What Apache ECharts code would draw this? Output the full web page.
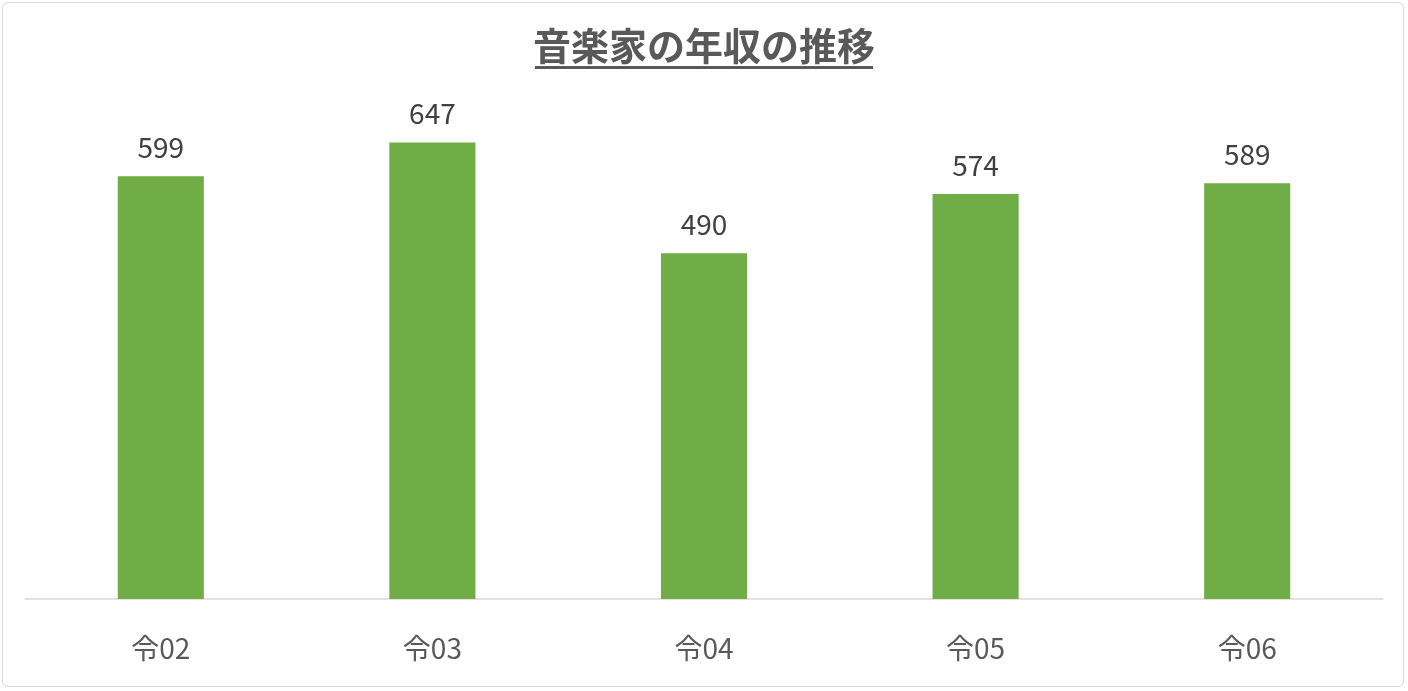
<!DOCTYPE html>
<html><head><meta charset="utf-8">
<script src="https://cdn.jsdelivr.net/npm/echarts@6/dist/echarts.min.js"></script>
<style>
html,body{margin:0;padding:0;background:#fff;}
#wrap{position:absolute;left:2px;top:2px;width:1402px;height:685px;border:1px solid #d9d9d9;border-radius:6px;box-sizing:border-box;}
#c{position:absolute;left:0;top:0;width:1408px;height:691px;}
</style></head>
<body>
<div id="wrap"></div>
<div id="c"></div>
<script>
const categories = ['令02','令03','令04','令05','令06'];
const values = [599, 647, 490, 574, 589];
const titleText = '音楽家の年収の推移';

const chart = echarts.init(document.getElementById('c'));
chart.setOption({
  animation:false,
  title:{text:titleText,left:'center',top:22,
    textStyle:{fontFamily:'Noto Sans CJK JP',fontSize:38,fontWeight:'bold',color:'#595959'}},
  graphic:[{type:'rect',left:'center',top:66,shape:{width:338,height:3},style:{fill:'#595959'}}],
  grid:{left:25,right:25,top:105,bottom:92},
  xAxis:{type:'category',data:categories,
    axisLine:{lineStyle:{color:'#d9d9d9',width:1.5}},axisTick:{show:false},
    axisLabel:{fontFamily:'Noto Sans CJK JP',fontSize:28,color:'#595959',margin:35}},
  yAxis:{type:'value',min:0,max:700,show:false,splitLine:{show:false}},
  series:[{type:'bar',data:values,barWidth:'31.7%',itemStyle:{color:'#70ad47'},
    label:{show:true,position:'top',distance:15,fontFamily:'Noto Sans CJK JP',fontSize:28,color:'#404040'}}]
});
</script>
</body></html>
